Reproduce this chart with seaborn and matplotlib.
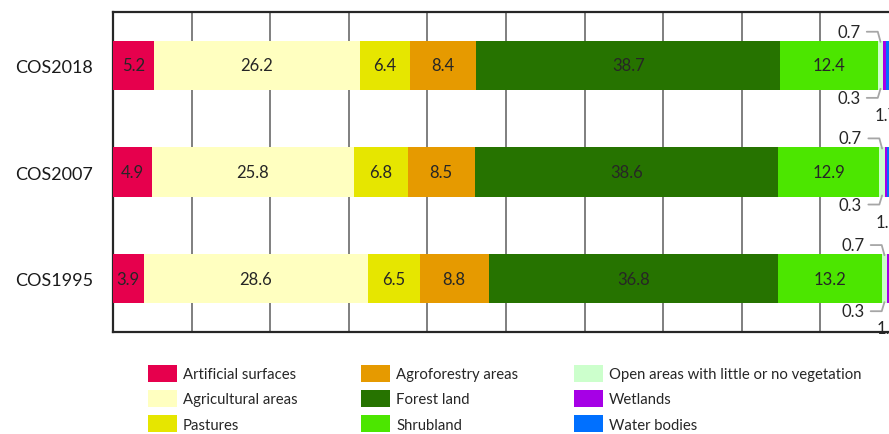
import numpy as np
import pandas as pd
import matplotlib
matplotlib.use("Agg")
import matplotlib.pyplot as plt
from matplotlib.patches import Patch
import seaborn as sns

# Land cover shares (%) per COS map edition
years = ["COS2018", "COS2007", "COS1995"]
classes = ["Artificial surfaces", "Agricultural areas", "Pastures",
           "Agroforestry areas", "Forest land", "Shrubland",
           "Open areas with little or no vegetation", "Wetlands", "Water bodies"]
artificial = [5.2, 4.9, 3.9]
agricultural = [26.2, 25.8, 28.6]
pastures = [6.4, 6.8, 6.5]
agroforestry = [8.4, 8.5, 8.8]
forest = [38.7, 38.6, 36.8]
shrubland = [12.4, 12.9, 13.2]
open_areas = [0.7, 0.7, 0.7]
wetlands = [0.3, 0.3, 0.3]
water = [1.7, 1.5, 1.2]

colors = ["#E6004D", "#FFFFC0", "#E6E600", "#E69A00", "#267300",
          "#4CE600", "#CCFFCC", "#A600E6", "#0070FF"]

series = [artificial, agricultural, pastures, agroforestry, forest,
          shrubland, open_areas, wetlands, water]

df = pd.DataFrame({c: v for c, v in zip(classes, series)}, index=years)
cum = df.cumsum(axis=1)

sns.set_theme(style="white")
plt.rcParams["font.family"] = ["Lato", "DejaVu Sans"]

W, H = 889, 435
fig = plt.figure(figsize=(W / 100, H / 100), dpi=100)
ax = fig.add_axes([113 / W, 1 - 333 / H, 786 / W, 320 / H])

BAR_H = 0.46
# stacked bars: draw cumulative totals from the last class back to the first
for cls, col in zip(reversed(classes), reversed(colors)):
    sns.barplot(x=cum[cls].values, y=years, orient="h", color=col,
                width=BAR_H, ax=ax, saturation=1, edgecolor="none", zorder=3)

ax.set_xlim(0, 100)
ax.set_ylim(2.5, -0.5)
ax.set_xticks(np.arange(0, 101, 10))
ax.xaxis.grid(True, color="#7F7F7F", lw=1.4, zorder=0)
ax.set_axisbelow(True)
ax.tick_params(axis="x", length=0, labelbottom=False)
ax.tick_params(axis="y", length=0, labelsize=13, pad=14.4, colors="#1a1a1a")
for s in ax.spines.values():
    s.set_color("#262626")
    s.set_linewidth(1.6)
ax.set_xlabel("")
ax.set_ylabel("")

txt_kw = dict(fontsize=12, color="#262626", zorder=5)
lead_kw = dict(color="#A6A6A6", lw=1.3, zorder=4, solid_capstyle="round")
half = BAR_H / 2
for i, yr in enumerate(years):
    start = 0.0
    for cls in classes:
        v = df.loc[yr, cls]
        mid = start + v / 2
        if cls == "Open areas with little or no vegetation":
            ty = i - half - 0.085
            ax.text(start - 2.2, ty, f"{v:.1f}", ha="right", va="center", **txt_kw)
            ax.plot([start - 1.4, start + 0.0, start + 0.35],
                    [ty, ty, i - half + 0.01], **lead_kw)
        elif cls == "Wetlands":
            ty = i + half + 0.075
            ax.text(start - 2.9, ty, f"{v:.1f}", ha="right", va="center", **txt_kw)
            ax.plot([start - 2.1, start - 0.7, start - 0.35],
                    [ty, ty, i + half - 0.01], **lead_kw)
        elif cls == "Water bodies":
            ax.text(mid - 0.8, i + half + 0.235, f"{v:.1f}", ha="center",
                    va="center", **txt_kw)
        else:
            ax.text(mid, i, f"{v:.1f}", ha="center", va="center", **txt_kw)
        start += v

# three-column legend, one legend per column
handles = [Patch(facecolor=c, edgecolor="none") for c in colors]
fs = 10.7
fs_px = fs * 100 / 72
col_x = [148, 361, 574]
for k in range(3):
    leg = fig.legend(handles[3 * k:3 * k + 3], classes[3 * k:3 * k + 3],
                     loc="upper left", bbox_to_anchor=(col_x[k] / W, 1 - 366 / H),
                     frameon=False, fontsize=fs, borderpad=0, borderaxespad=0,
                     handlelength=29 / fs_px, handleheight=20 / fs_px,
                     handletextpad=6 / fs_px, labelspacing=8.5 / fs_px)
    for t in leg.get_texts():
        t.set_color("#262626")

fig.savefig("out.png", dpi=100)
